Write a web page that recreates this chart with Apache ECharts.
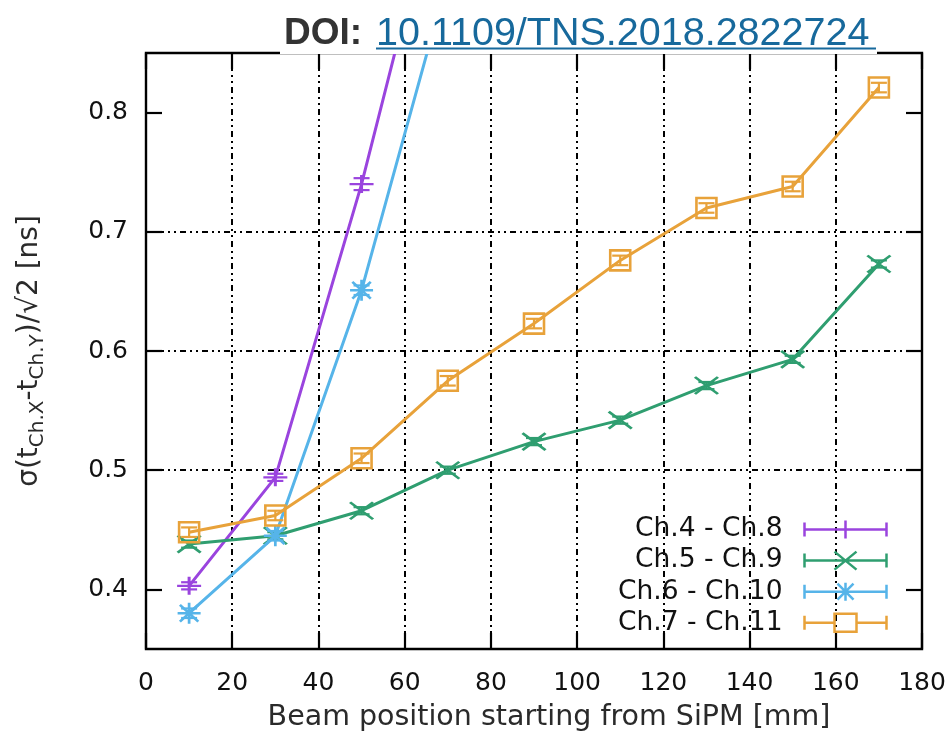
<!DOCTYPE html>
<html>
<head>
<meta charset="utf-8">
<script src="https://cdn.jsdelivr.net/npm/echarts@6/dist/echarts.min.js"></script>
<style>
  html, body { margin: 0; padding: 0; background: #fff; }
  #chart { width: 952px; height: 744px; }
</style>
</head>
<body>
<div id="chart"></div>
<script>
// Beam positions along the bar [mm]
const positions = [10, 30, 50, 70, 90, 110, 130, 150, 170];

// sigma(t_X - t_Y)/sqrt(2) [ns] for each channel pair
const ch4ch8  = [0.403, 0.494, 0.740, 1.025];
const ch5ch9  = [0.438, 0.445, 0.466, 0.500, 0.524, 0.542, 0.571, 0.593, 0.673];
const ch6ch10 = [0.380, 0.445, 0.651, 0.913];
const ch7ch11 = [0.448, 0.462, 0.510, 0.575, 0.623, 0.676, 0.720, 0.738, 0.821];

// statistical uncertainties [ns]
const ch4ch8Err  = [0.003, 0.003, 0.005, 0.006];
const ch5ch9Err  = [0.003, 0.003, 0.003, 0.003, 0.003, 0.003, 0.003, 0.003, 0.003];
const ch6ch10Err = [0.004, 0.004, 0.004, 0.005];
const ch7ch11Err = [0.004, 0.004, 0.004, 0.004, 0.004, 0.004, 0.004, 0.004, 0.004];

const seriesNames = ['Ch.4 - Ch.8', 'Ch.5 - Ch.9', 'Ch.6 - Ch.10', 'Ch.7 - Ch.11'];
const xTickValues = [0, 20, 40, 60, 80, 100, 120, 140, 160, 180];
const yTickValues = [0.4, 0.5, 0.6, 0.7, 0.8];

const colors = ['#9a44de', '#2f9e70', '#56b4e9', '#e8a23a'];
const values = [ch4ch8, ch5ch9, ch6ch10, ch7ch11];
const errors = [ch4ch8Err, ch5ch9Err, ch6ch10Err, ch7ch11Err];

// point shapes: plus, cross, asterisk, open square
const symbols = [
  'path://M0,10 L20,10 M10,0 L10,20',
  'path://M0,0 L20,20 M20,0 L0,20',
  'path://M0,10 L20,10 M10,0 L10,20 M2,2 L18,18 M18,2 L2,18',
  'path://M0,0 L20,0 L20,20 L0,20 Z'
];
const symbolSizes = [[24, 18], [23, 17], [23, 21], [20, 20]];

// legend keys: error-bar line with end caps and the point shape in the middle
const bar = 'M0,2 L0,16 M82,2 L82,16 ';
const legendIcons = [
  'path://' + bar + 'M0,9 L82,9 M30,9 L52,9 M41,0 L41,18',
  'path://' + bar + 'M0,9 L82,9 M30,0 L52,18 M52,0 L30,18',
  'path://' + bar + 'M0,9 L82,9 M30,9 L52,9 M41,0 L41,18 M33,1 L49,17 M49,1 L33,17',
  'path://' + bar + 'M0,9 L30,9 M52,9 L82,9 M30,0 L52,0 L52,18 L30,18 Z'
];

const axisFont = 'DejaVu Sans';

function pairs(vals) {
  return vals.map((v, i) => [positions[i], v]);
}
function triples(vals, errs) {
  return vals.map((v, i) => [positions[i], v, errs[i]]);
}

function errorBarRenderer(color) {
  return function (params, api) {
    const x = api.value(0), y = api.value(1), e = api.value(2);
    const hi = api.coord([x, y + e]);
    const lo = api.coord([x, y - e]);
    const hw = 8;
    const st = { stroke: color, lineWidth: 2.2, fill: null };
    return {
      type: 'group',
      children: [
        { type: 'line', shape: { x1: hi[0], y1: hi[1], x2: lo[0], y2: lo[1] }, style: st },
        { type: 'line', shape: { x1: hi[0] - hw, y1: hi[1], x2: hi[0] + hw, y2: hi[1] }, style: st },
        { type: 'line', shape: { x1: lo[0] - hw, y1: lo[1], x2: lo[0] + hw, y2: lo[1] }, style: st }
      ]
    };
  };
}

const series = [];
seriesNames.forEach((name, i) => {
  series.push({
    name: name,
    type: 'line',
    data: pairs(values[i]),
    clip: true,
    symbol: symbols[i],
    symbolSize: symbolSizes[i],
    showAllSymbol: true,
    lineStyle: { color: colors[i], width: 3 },
    itemStyle: { color: 'none', borderColor: colors[i], borderWidth: 2.6 },
    emphasis: { disabled: true },
    animation: false,
    z: 3 + i
  });
  series.push({
    name: name,
    type: 'custom',
    data: triples(values[i], errors[i]),
    encode: { x: 0, y: 1 },
    clip: true,
    renderItem: errorBarRenderer(colors[i]),
    animation: false,
    z: 3 + i
  });
});

const gridLine = { color: '#000', type: [2, 4, 2, 4, 6, 4], width: 2 };
const tickStyle = { color: '#000', width: 2.2 };

const option = {
  backgroundColor: '#fff',
  animation: false,
  grid: {
    left: 146, right: 30, top: 53, bottom: 95,
    show: true, borderColor: '#000', borderWidth: 2.4,
    backgroundColor: 'transparent'
  },
  xAxis: [{
    type: 'value', min: 0, max: 180, interval: 20,
    axisLine: { show: false, onZero: false },
    axisTick: { show: true, inside: true, length: 16, lineStyle: tickStyle },
    axisLabel: {
      fontFamily: axisFont, fontSize: 25, color: '#111', margin: 22,
      customValues: xTickValues
    },
    splitLine: { show: true, showMinLine: false, showMaxLine: false, lineStyle: gridLine },
    name: 'Beam position starting from SiPM [mm]',
    nameLocation: 'middle', nameGap: 54,
    nameTextStyle: { fontFamily: axisFont, fontSize: 28.5, color: '#2a2a2a', padding: [0, 0, 0, 30] }
  }, {
    type: 'value', min: 0, max: 180, interval: 20, position: 'top',
    axisLine: { show: false, onZero: false },
    axisTick: { show: true, inside: true, length: 16, lineStyle: tickStyle },
    axisLabel: { show: false },
    splitLine: { show: false }
  }],
  yAxis: [{
    type: 'value', min: 0.35, max: 0.85, interval: 0.05, position: 'left',
    axisLine: { show: false, onZero: false },
    axisTick: {
      show: true, inside: true, length: 16, customValues: yTickValues,
      lineStyle: tickStyle
    },
    axisLabel: {
      customValues: yTickValues,
      formatter: v => v.toFixed(1),
      fontFamily: axisFont, fontSize: 25, color: '#111', margin: 18
    },
    splitLine: { show: true, showMinLine: false, showMaxLine: false, lineStyle: gridLine },
    name: '{a|σ(t}{s|Ch.X}{a|-t}{s|Ch.Y}{a|)/√2 [ns]}',
    nameLocation: 'middle', nameGap: 98,
    nameTextStyle: {
      rich: {
        a: { fontFamily: axisFont, fontSize: 28, color: '#2a2a2a', lineHeight: 36, verticalAlign: 'middle' },
        s: { fontFamily: axisFont, fontSize: 20, color: '#2a2a2a', verticalAlign: 'bottom' }
      }
    }
  }, {
    type: 'value', min: 0.35, max: 0.85, interval: 0.05, position: 'right',
    axisLine: { show: false, onZero: false },
    axisTick: {
      show: true, inside: true, length: 16, customValues: yTickValues,
      lineStyle: tickStyle
    },
    axisLabel: { show: false },
    splitLine: { show: false }
  }],
  legend: {
    orient: 'vertical', right: 63, top: 516, align: 'right', padding: 0,
    itemWidth: 82, itemHeight: 18, itemGap: 4.1,
    selectedMode: false,
    textStyle: { fontFamily: axisFont, fontSize: 26.5, color: '#111', lineHeight: 20, padding: [0, 17, 0, 0] },
    data: seriesNames.map((n, i) => ({
      name: n,
      icon: legendIcons[i],
      itemStyle: { color: 'none', borderColor: colors[i], borderWidth: 2.5 }
    }))
  },
  graphic: [
    { type: 'rect', z: 100, shape: { x: 280, y: 0, width: 597, height: 54 }, style: { fill: '#fff' } },
    {
      type: 'text', z: 101, x: 284, y: 34,
      style: {
        text: 'DOI:', fontFamily: 'Liberation Sans', fontWeight: 'bold', fontSize: 37,
        fill: '#333', verticalAlign: 'middle', align: 'left'
      }
    },
    {
      type: 'text', z: 101, x: 376, y: 34,
      style: {
        text: '10.1109/TNS.2018.2822724', fontFamily: 'Liberation Sans', fontSize: 39.5,
        fill: '#17699c', verticalAlign: 'middle', align: 'left'
      }
    },
    {
      type: 'line', z: 101, shape: { x1: 376, y1: 48.5, x2: 876, y2: 48.5 },
      style: { stroke: '#17699c', lineWidth: 2 }
    }
  ],
  series: series
};

const chart = echarts.init(document.getElementById('chart'), null, { renderer: 'canvas' });
chart.setOption(option);
</script>
</body>
</html>
